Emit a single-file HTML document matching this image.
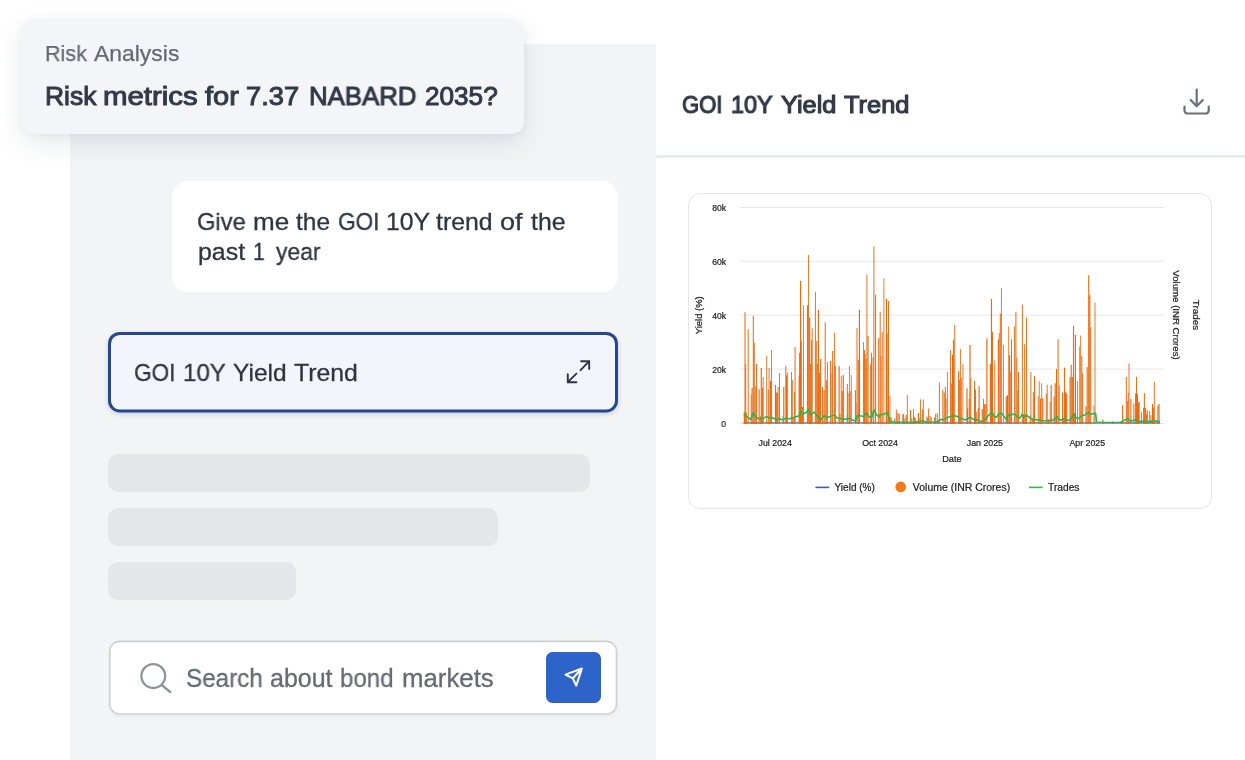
<!DOCTYPE html>
<html lang="en">
<head>
<meta charset="utf-8">
<title>GOI 10Y Yield Trend</title>
<style>
*{box-sizing:border-box;margin:0;padding:0}
html,body{width:1245px;height:760px;overflow:hidden;background:#fff}
body{position:relative;font-family:"Liberation Sans",Arial,sans-serif;color:#30343f}
.abs{position:absolute}
.t{position:absolute;white-space:nowrap;line-height:1;will-change:transform;transform-origin:0 0}
#leftpanel{left:70px;top:44px;width:586px;height:716px;background:#f3f4f6}
#topcard{left:22px;top:19px;width:502px;height:115px;background:#f3f5f8;border-radius:13px;
  box-shadow:0 10px 28px rgba(50,60,90,.11),0 2px 8px rgba(50,60,90,.05)}
#bubble{left:172px;top:181px;width:446px;height:111px;background:#fff;border-radius:16px}
#selcard{left:108px;top:331.9px;width:510px;height:80.6px;background:#f3f5fd;border-radius:11.8px;
  box-shadow:0 2px 5px rgba(30,50,110,.20)}
.sk{background:#e5e6ea;border-radius:10px;height:38px;left:108px}
#search{left:109px;top:640.6px;width:508.3px;height:74.2px;background:#fff;border-radius:10.5px;
  box-shadow:0 1px 3px rgba(0,0,0,.08)}
#sendbtn{left:546px;top:652px;width:55px;height:50.5px;background:#2e64c9;border-radius:6.5px}
#divider{left:656px;top:155px;width:589px;height:3px;background:#e9ebee}
#chartcard{left:688px;top:192.5px;width:524px;height:316px;border:1px solid #e5e7ea;border-radius:12px;background:#fff}
svg#ov{position:absolute;left:0;top:0;width:1245px;height:760px;overflow:visible}
svg text{font-family:"Liberation Sans",Arial,sans-serif}
</style>
</head>
<body>
<div id="leftpanel" class="abs"></div>
<div id="topcard" class="abs"></div>

<div id="bubble" class="abs"></div>

<div id="selcard" class="abs"></div>

<div class="abs sk" style="top:454px;width:482px"></div>
<div class="abs sk" style="top:508px;width:390px"></div>
<div class="abs sk" style="top:562px;width:188px"></div>

<div id="search" class="abs"></div>
<div id="sendbtn" class="abs"></div>

<div id="divider" class="abs"></div>
<div id="chartcard" class="abs"></div>

<div class="t" style="left:44.70px;top:43.1px;font-size:22.6px;transform:scaleX(0.9538);color:#656a72;-webkit-text-stroke:0.25px #656a72">Risk</div>
<div class="t" style="left:94.10px;top:43.1px;font-size:22.6px;transform:scaleX(1.0144);color:#656a72;-webkit-text-stroke:0.25px #656a72">Analysis</div>
<div class="t" style="left:44.70px;top:82.7px;font-size:26px;transform:scaleX(1.0160);color:#333947;-webkit-text-stroke:1.0px #333947">Risk</div>
<div class="t" style="left:103.30px;top:82.7px;font-size:26px;transform:scaleX(1.1315);color:#333947;-webkit-text-stroke:1.0px #333947">metrics</div>
<div class="t" style="left:205.30px;top:82.7px;font-size:26px;transform:scaleX(1.1166);color:#333947;-webkit-text-stroke:1.0px #333947">for</div>
<div class="t" style="left:246.20px;top:82.7px;font-size:26px;transform:scaleX(1.0490);color:#333947;-webkit-text-stroke:1.0px #333947">7.37</div>
<div class="t" style="left:309.10px;top:82.7px;font-size:26px;transform:scaleX(0.9926);color:#333947;-webkit-text-stroke:1.0px #333947">NABARD</div>
<div class="t" style="left:424.50px;top:82.7px;font-size:26px;transform:scaleX(1.0056);color:#333947;-webkit-text-stroke:1.0px #333947">2035?</div>
<div class="t" style="left:197.40px;top:209.8px;font-size:24.5px;transform:scaleX(0.9675);color:#30343f;-webkit-text-stroke:0.3px #30343f">Give</div>
<div class="t" style="left:252.50px;top:209.8px;font-size:24.5px;transform:scaleX(1.0629);color:#30343f;-webkit-text-stroke:0.3px #30343f">me</div>
<div class="t" style="left:296.20px;top:209.8px;font-size:24.5px;transform:scaleX(1.0003);color:#30343f;-webkit-text-stroke:0.3px #30343f">the</div>
<div class="t" style="left:337.60px;top:209.8px;font-size:24.5px;transform:scaleX(0.9242);color:#30343f;-webkit-text-stroke:0.3px #30343f">GOI</div>
<div class="t" style="left:386.40px;top:209.8px;font-size:24.5px;transform:scaleX(1.0098);color:#30343f;-webkit-text-stroke:0.3px #30343f">10Y</div>
<div class="t" style="left:436.40px;top:209.8px;font-size:24.5px;transform:scaleX(1.0147);color:#30343f;-webkit-text-stroke:0.3px #30343f">trend</div>
<div class="t" style="left:500.10px;top:209.8px;font-size:24.5px;transform:scaleX(1.0999);color:#30343f;-webkit-text-stroke:0.3px #30343f">of</div>
<div class="t" style="left:531.40px;top:209.8px;font-size:24.5px;transform:scaleX(1.0126);color:#30343f;-webkit-text-stroke:0.3px #30343f">the</div>
<div class="t" style="left:198.00px;top:239.9px;font-size:24.5px;transform:scaleX(1.0176);color:#30343f;-webkit-text-stroke:0.3px #30343f">past</div>
<div class="t" style="left:253.00px;top:239.9px;font-size:24.5px;transform:scaleX(0.8600);color:#30343f;-webkit-text-stroke:0.3px #30343f">1</div>
<div class="t" style="left:275.50px;top:239.9px;font-size:24.5px;transform:scaleX(0.9336);color:#30343f;-webkit-text-stroke:0.3px #30343f">year</div>
<div class="t" style="left:133.60px;top:360.5px;font-size:24.5px;transform:scaleX(0.9242);color:#30343f;-webkit-text-stroke:0.3px #30343f">GOI</div>
<div class="t" style="left:183.20px;top:360.5px;font-size:24.5px;transform:scaleX(0.9812);color:#30343f;-webkit-text-stroke:0.3px #30343f">10Y</div>
<div class="t" style="left:233.20px;top:360.5px;font-size:24.5px;transform:scaleX(1.0001);color:#30343f;-webkit-text-stroke:0.3px #30343f">Yield</div>
<div class="t" style="left:293.90px;top:360.5px;font-size:24.5px;transform:scaleX(1.0130);color:#30343f;-webkit-text-stroke:0.3px #30343f">Trend</div>
<div class="t" style="left:185.60px;top:665.6px;font-size:25px;transform:scaleX(0.9689);color:#666a72;-webkit-text-stroke:0.3px #666a72">Search</div>
<div class="t" style="left:269.50px;top:665.6px;font-size:25px;transform:scaleX(0.9937);color:#666a72;-webkit-text-stroke:0.3px #666a72">about</div>
<div class="t" style="left:340.30px;top:665.6px;font-size:25px;transform:scaleX(0.9624);color:#666a72;-webkit-text-stroke:0.3px #666a72">bond</div>
<div class="t" style="left:401.60px;top:665.6px;font-size:25px;transform:scaleX(1.0322);color:#666a72;-webkit-text-stroke:0.3px #666a72">markets</div>
<div class="t" style="left:681.80px;top:93px;font-size:24.8px;transform:scaleX(0.8912);color:#333947;-webkit-text-stroke:1.15px #333947">GOI</div>
<div class="t" style="left:731.20px;top:93px;font-size:24.8px;transform:scaleX(0.9446);color:#333947;-webkit-text-stroke:1.15px #333947">10Y</div>
<div class="t" style="left:781.20px;top:93px;font-size:24.8px;transform:scaleX(1.0228);color:#333947;-webkit-text-stroke:1.15px #333947">Yield</div>
<div class="t" style="left:843.90px;top:93px;font-size:24.8px;transform:scaleX(1.0254);color:#333947;-webkit-text-stroke:1.15px #333947">Trend</div>
<svg id="ov" viewBox="0 0 1245 760">
  <rect x="109.5" y="333.4" width="507" height="77.6" rx="10.3" fill="none" stroke="#24478d" stroke-width="3"/>
  <rect x="109.8" y="641.4" width="506.7" height="72.6" rx="9.6" fill="none" stroke="#cdd0d5" stroke-width="1.6"/>
  <!-- expand icon -->
  <g fill="none" stroke="#2f3340" stroke-width="1.9" stroke-linecap="round" stroke-linejoin="miter">
    <path d="M581.1 361.2H589.2V369.1M589.2 361.2L580.6 370.2"/>
    <path d="M567.8 374.2V382.2H576.4M567.8 382.2L576.4 373.6"/>
  </g>
  <!-- search icon -->
  <g fill="none" stroke="#8e9399" stroke-width="2.3" stroke-linecap="round">
    <circle cx="153.3" cy="676.1" r="11.9"/>
    <path d="M162 685.2L170.2 692"/>
  </g>
  <!-- send icon -->
  <g fill="none" stroke="#fff" stroke-width="2" stroke-linecap="round" stroke-linejoin="round">
    <path d="M581.9 668.5L572.9 678.3M581.9 668.5L576.2 685.7L572.9 678.3L565.5 674.6Z"/>
  </g>
  <!-- download icon -->
  <g fill="none" stroke="#6b6f77" stroke-width="2.2" stroke-linecap="round" stroke-linejoin="round">
    <path d="M1196.7 89.5V106.2M1190.7 100.1L1196.7 106.3L1202.8 100.1"/>
    <path d="M1184.5 106.7V110.5a3 3 0 0 0 3 3H1205.7a3 3 0 0 0 3-3V106.7"/>
  </g>
  <!-- chart -->
  <g stroke="#e6e6e6" stroke-width="1">
    <line x1="740.2" x2="1163.8" y1="207.5" y2="207.5"/>
    <line x1="740.2" x2="1163.8" y1="261.3" y2="261.3"/>
    <line x1="740.2" x2="1163.8" y1="315.2" y2="315.2"/>
    <line x1="740.2" x2="1163.8" y1="369.1" y2="369.1"/>
    <line x1="740.2" x2="1163.8" y1="423.5" y2="423.5" stroke="#dedede"/>
  </g>
  <g stroke="#efefef" stroke-width="1">
    <line x1="775.1" x2="775.1" y1="423" y2="430"/>
    <line x1="880.3" x2="880.3" y1="423" y2="430"/>
    <line x1="984.8" x2="984.8" y1="423" y2="430"/>
    <line x1="1086.6" x2="1086.6" y1="423" y2="430"/>
  </g>
<line x1="743.5" y1="422.9" x2="1160" y2="422.9" stroke="#3b6fd4" stroke-width="1.1"/>
<g fill="#e8680e">
<rect x="743.77" y="412.1" width="1.15" height="11.9" opacity="1.0"/>
<rect x="744.50" y="312.3" width="1.0" height="111.7" opacity="1.0"/>
<rect x="745.25" y="364.0" width="0.9" height="60.0" opacity="1.0"/>
<rect x="746.17" y="412.8" width="0.9" height="11.2" opacity="1.0"/>
<rect x="747.70" y="329.2" width="1.0" height="94.8" opacity="0.95"/>
<rect x="750.73" y="394.5" width="0.9" height="29.5" opacity="1.0"/>
<rect x="751.52" y="388.0" width="1.15" height="36.0" opacity="0.95"/>
<rect x="752.80" y="315.8" width="1.0" height="108.2" opacity="1.0"/>
<rect x="753.85" y="342.7" width="0.9" height="81.3" opacity="1.0"/>
<rect x="755.24" y="386.2" width="1.0" height="37.8" opacity="0.95"/>
<rect x="756.10" y="364.0" width="1.0" height="60.0" opacity="1.0"/>
<rect x="758.58" y="389.2" width="1.15" height="34.8" opacity="0.95"/>
<rect x="759.79" y="416.1" width="1.0" height="7.9" opacity="1.0"/>
<rect x="760.72" y="368.0" width="1.15" height="56.0" opacity="1.0"/>
<rect x="762.07" y="387.6" width="1.0" height="36.4" opacity="1.0"/>
<rect x="762.75" y="377.0" width="0.9" height="47.0" opacity="0.95"/>
<rect x="766.25" y="356.0" width="0.9" height="68.0" opacity="0.95"/>
<rect x="767.82" y="389.7" width="0.9" height="34.3" opacity="1.0"/>
<rect x="768.65" y="368.0" width="0.9" height="56.0" opacity="1.0"/>
<rect x="770.02" y="381.0" width="1.15" height="43.0" opacity="1.0"/>
<rect x="771.15" y="350.0" width="0.9" height="74.0" opacity="1.0"/>
<rect x="774.92" y="385.0" width="1.15" height="39.0" opacity="1.0"/>
<rect x="775.66" y="392.4" width="1.15" height="31.6" opacity="1.0"/>
<rect x="776.80" y="393.1" width="1.15" height="30.9" opacity="0.95"/>
<rect x="777.60" y="387.0" width="1.0" height="37.0" opacity="0.95"/>
<rect x="779.05" y="373.0" width="0.9" height="51.0" opacity="1.0"/>
<rect x="782.62" y="415.9" width="0.9" height="8.1" opacity="1.0"/>
<rect x="783.22" y="387.0" width="1.15" height="37.0" opacity="1.0"/>
<rect x="785.35" y="365.5" width="0.9" height="58.5" opacity="1.0"/>
<rect x="785.99" y="375.5" width="1.0" height="48.5" opacity="1.0"/>
<rect x="786.80" y="372.6" width="1.0" height="51.4" opacity="1.0"/>
<rect x="790.95" y="372.0" width="0.9" height="52.0" opacity="1.0"/>
<rect x="791.85" y="380.0" width="0.9" height="44.0" opacity="1.0"/>
<rect x="792.87" y="417.3" width="0.9" height="6.7" opacity="0.95"/>
<rect x="794.01" y="391.9" width="0.9" height="32.1" opacity="0.95"/>
<rect x="794.60" y="347.0" width="1.0" height="77.0" opacity="1.0"/>
<rect x="798.57" y="375.7" width="0.9" height="48.3" opacity="1.0"/>
<rect x="799.12" y="352.7" width="1.15" height="71.3" opacity="1.0"/>
<rect x="800.02" y="280.9" width="1.15" height="143.1" opacity="1.0"/>
<rect x="800.85" y="340.8" width="0.9" height="83.2" opacity="1.0"/>
<rect x="801.86" y="407.0" width="1.15" height="17.0" opacity="1.0"/>
<rect x="803.15" y="305.2" width="0.9" height="118.8" opacity="0.95"/>
<rect x="806.92" y="305.2" width="1.15" height="118.8" opacity="0.95"/>
<rect x="808.15" y="255.0" width="0.9" height="169.0" opacity="1.0"/>
<rect x="809.12" y="317.6" width="1.15" height="106.4" opacity="1.0"/>
<rect x="809.91" y="363.9" width="1.0" height="60.1" opacity="0.95"/>
<rect x="811.10" y="340.4" width="0.9" height="83.6" opacity="0.95"/>
<rect x="811.70" y="328.3" width="1.0" height="95.7" opacity="0.95"/>
<rect x="814.90" y="292.1" width="1.0" height="131.9" opacity="0.95"/>
<rect x="816.25" y="341.0" width="0.9" height="83.0" opacity="1.0"/>
<rect x="816.74" y="363.5" width="1.0" height="60.5" opacity="1.0"/>
<rect x="817.82" y="309.9" width="1.15" height="114.1" opacity="1.0"/>
<rect x="819.07" y="373.0" width="0.9" height="51.0" opacity="1.0"/>
<rect x="820.02" y="359.0" width="1.15" height="65.0" opacity="0.95"/>
<rect x="821.90" y="387.0" width="1.0" height="37.0" opacity="1.0"/>
<rect x="823.50" y="390.0" width="1.15" height="34.0" opacity="1.0"/>
<rect x="824.70" y="322.3" width="1.0" height="101.7" opacity="1.0"/>
<rect x="825.90" y="380.4" width="0.9" height="43.6" opacity="1.0"/>
<rect x="826.95" y="362.0" width="0.9" height="62.0" opacity="1.0"/>
<rect x="830.12" y="361.0" width="1.15" height="63.0" opacity="1.0"/>
<rect x="831.55" y="372.8" width="1.0" height="51.2" opacity="0.95"/>
<rect x="832.12" y="351.0" width="1.15" height="73.0" opacity="0.95"/>
<rect x="834.05" y="332.8" width="0.9" height="91.2" opacity="0.95"/>
<rect x="835.02" y="366.0" width="0.9" height="58.0" opacity="0.95"/>
<rect x="838.52" y="366.0" width="1.15" height="58.0" opacity="1.0"/>
<rect x="839.57" y="413.7" width="0.9" height="10.3" opacity="1.0"/>
<rect x="840.75" y="376.0" width="0.9" height="48.0" opacity="1.0"/>
<rect x="841.72" y="391.0" width="1.15" height="33.0" opacity="1.0"/>
<rect x="842.72" y="375.0" width="1.15" height="49.0" opacity="1.0"/>
<rect x="846.80" y="384.0" width="1.0" height="40.0" opacity="1.0"/>
<rect x="847.42" y="393.1" width="1.15" height="30.9" opacity="0.95"/>
<rect x="848.95" y="366.0" width="0.9" height="58.0" opacity="0.95"/>
<rect x="849.77" y="391.3" width="1.0" height="32.7" opacity="0.95"/>
<rect x="850.85" y="375.0" width="0.9" height="49.0" opacity="0.95"/>
<rect x="854.90" y="390.0" width="1.0" height="34.0" opacity="1.0"/>
<rect x="855.52" y="402.7" width="0.9" height="21.3" opacity="1.0"/>
<rect x="856.50" y="328.0" width="1.0" height="96.0" opacity="0.95"/>
<rect x="857.67" y="359.8" width="1.15" height="64.2" opacity="1.0"/>
<rect x="858.82" y="309.9" width="1.15" height="114.1" opacity="1.0"/>
<rect x="862.95" y="342.0" width="0.9" height="82.0" opacity="1.0"/>
<rect x="863.90" y="350.0" width="1.0" height="74.0" opacity="1.0"/>
<rect x="864.51" y="353.6" width="1.15" height="70.4" opacity="1.0"/>
<rect x="865.72" y="358.9" width="1.0" height="65.1" opacity="1.0"/>
<rect x="866.45" y="274.7" width="0.9" height="149.3" opacity="1.0"/>
<rect x="867.42" y="336.0" width="1.15" height="88.0" opacity="1.0"/>
<rect x="870.20" y="364.5" width="1.15" height="59.5" opacity="1.0"/>
<rect x="871.00" y="352.7" width="1.0" height="71.3" opacity="0.95"/>
<rect x="872.55" y="357.2" width="1.0" height="66.8" opacity="0.95"/>
<rect x="873.40" y="246.2" width="1.0" height="177.8" opacity="0.95"/>
<rect x="875.10" y="294.7" width="1.0" height="129.3" opacity="1.0"/>
<rect x="878.17" y="338.0" width="1.15" height="86.0" opacity="0.95"/>
<rect x="879.70" y="311.7" width="1.0" height="112.3" opacity="0.95"/>
<rect x="880.58" y="355.7" width="0.9" height="68.3" opacity="0.95"/>
<rect x="881.67" y="332.1" width="1.0" height="91.9" opacity="1.0"/>
<rect x="883.45" y="278.5" width="0.9" height="145.5" opacity="0.95"/>
<rect x="885.92" y="299.0" width="1.15" height="125.0" opacity="1.0"/>
<rect x="887.36" y="333.5" width="1.0" height="90.5" opacity="1.0"/>
<rect x="888.00" y="301.0" width="1.0" height="123.0" opacity="0.95"/>
<rect x="889.40" y="396.0" width="1.0" height="28.0" opacity="0.95"/>
<rect x="890.70" y="417.3" width="1.15" height="6.7" opacity="0.95"/>
<rect x="894.20" y="418.4" width="1.0" height="5.6" opacity="0.95"/>
<rect x="895.85" y="409.5" width="0.9" height="14.5" opacity="1.0"/>
<rect x="896.52" y="422.0" width="0.9" height="2.0" opacity="1.0"/>
<rect x="897.22" y="413.0" width="1.15" height="11.0" opacity="0.95"/>
<rect x="898.62" y="414.0" width="1.15" height="10.0" opacity="1.0"/>
<rect x="902.30" y="414.5" width="1.0" height="9.5" opacity="1.0"/>
<rect x="903.15" y="414.0" width="0.9" height="10.0" opacity="1.0"/>
<rect x="904.45" y="418.3" width="1.0" height="5.7" opacity="1.0"/>
<rect x="905.72" y="415.0" width="1.15" height="9.0" opacity="0.95"/>
<rect x="906.85" y="395.0" width="0.9" height="29.0" opacity="1.0"/>
<rect x="910.02" y="410.0" width="1.15" height="14.0" opacity="1.0"/>
<rect x="911.28" y="418.1" width="1.0" height="5.9" opacity="1.0"/>
<rect x="912.95" y="409.0" width="0.9" height="15.0" opacity="1.0"/>
<rect x="913.90" y="417.0" width="1.0" height="7.0" opacity="1.0"/>
<rect x="914.62" y="418.5" width="1.15" height="5.5" opacity="1.0"/>
<rect x="917.82" y="413.0" width="1.15" height="11.0" opacity="1.0"/>
<rect x="919.30" y="418.3" width="0.9" height="5.7" opacity="0.95"/>
<rect x="920.05" y="399.3" width="0.9" height="24.7" opacity="0.95"/>
<rect x="921.90" y="409.5" width="1.0" height="14.5" opacity="0.95"/>
<rect x="922.85" y="399.6" width="0.9" height="24.4" opacity="1.0"/>
<rect x="926.40" y="416.5" width="1.0" height="7.5" opacity="0.95"/>
<rect x="927.23" y="417.7" width="1.0" height="6.3" opacity="0.95"/>
<rect x="928.20" y="408.4" width="1.0" height="15.6" opacity="1.0"/>
<rect x="929.55" y="416.0" width="0.9" height="8.0" opacity="1.0"/>
<rect x="930.57" y="417.7" width="1.15" height="6.3" opacity="1.0"/>
<rect x="934.06" y="417.4" width="1.0" height="6.6" opacity="1.0"/>
<rect x="935.20" y="413.5" width="1.0" height="10.5" opacity="1.0"/>
<rect x="936.80" y="413.5" width="1.0" height="10.5" opacity="0.95"/>
<rect x="937.40" y="421.1" width="1.15" height="2.9" opacity="0.95"/>
<rect x="938.90" y="382.5" width="1.0" height="41.5" opacity="0.95"/>
<rect x="942.30" y="389.6" width="1.0" height="34.4" opacity="0.95"/>
<rect x="943.62" y="392.5" width="1.15" height="31.5" opacity="0.95"/>
<rect x="944.90" y="386.8" width="1.0" height="37.2" opacity="0.95"/>
<rect x="945.38" y="398.7" width="1.15" height="25.3" opacity="0.95"/>
<rect x="946.95" y="371.9" width="0.9" height="52.1" opacity="0.95"/>
<rect x="949.95" y="350.1" width="0.9" height="73.9" opacity="1.0"/>
<rect x="951.19" y="383.5" width="0.9" height="40.5" opacity="1.0"/>
<rect x="951.92" y="354.8" width="1.15" height="69.2" opacity="1.0"/>
<rect x="952.90" y="339.9" width="1.0" height="84.1" opacity="1.0"/>
<rect x="954.25" y="325.0" width="0.9" height="99.0" opacity="1.0"/>
<rect x="958.02" y="371.2" width="1.15" height="52.8" opacity="0.95"/>
<rect x="959.17" y="379.7" width="0.9" height="44.3" opacity="1.0"/>
<rect x="959.95" y="349.1" width="0.9" height="74.9" opacity="0.95"/>
<rect x="960.85" y="378.0" width="0.9" height="46.0" opacity="1.0"/>
<rect x="962.45" y="364.0" width="0.9" height="60.0" opacity="0.95"/>
<rect x="966.42" y="388.2" width="1.15" height="35.8" opacity="1.0"/>
<rect x="967.02" y="408.6" width="1.15" height="15.4" opacity="1.0"/>
<rect x="968.70" y="399.0" width="1.0" height="25.0" opacity="0.95"/>
<rect x="969.42" y="344.9" width="1.15" height="79.1" opacity="1.0"/>
<rect x="970.45" y="378.0" width="0.9" height="46.0" opacity="1.0"/>
<rect x="974.00" y="381.1" width="1.0" height="42.9" opacity="1.0"/>
<rect x="975.00" y="389.6" width="1.0" height="34.4" opacity="0.95"/>
<rect x="976.25" y="411.8" width="0.9" height="12.2" opacity="0.95"/>
<rect x="977.72" y="408.0" width="1.15" height="16.0" opacity="0.95"/>
<rect x="978.52" y="386.1" width="1.15" height="37.9" opacity="1.0"/>
<rect x="981.72" y="409.0" width="1.15" height="15.0" opacity="0.95"/>
<rect x="983.05" y="398.9" width="0.9" height="25.1" opacity="1.0"/>
<rect x="984.05" y="404.0" width="0.9" height="20.0" opacity="1.0"/>
<rect x="985.24" y="404.4" width="1.15" height="19.6" opacity="1.0"/>
<rect x="986.32" y="338.5" width="1.15" height="85.5" opacity="1.0"/>
<rect x="989.80" y="364.1" width="1.15" height="59.9" opacity="1.0"/>
<rect x="990.92" y="299.0" width="1.15" height="125.0" opacity="1.0"/>
<rect x="991.82" y="332.1" width="1.15" height="91.9" opacity="1.0"/>
<rect x="993.34" y="412.1" width="0.9" height="11.9" opacity="0.95"/>
<rect x="994.35" y="360.5" width="0.9" height="63.5" opacity="1.0"/>
<rect x="997.77" y="339.5" width="1.15" height="84.5" opacity="1.0"/>
<rect x="998.75" y="332.8" width="0.9" height="91.2" opacity="1.0"/>
<rect x="999.80" y="313.5" width="1.0" height="110.5" opacity="1.0"/>
<rect x="1000.95" y="288.0" width="0.9" height="136.0" opacity="0.95"/>
<rect x="1002.95" y="344.9" width="0.9" height="79.1" opacity="0.95"/>
<rect x="1005.74" y="396.4" width="1.15" height="27.6" opacity="1.0"/>
<rect x="1007.00" y="395.0" width="1.0" height="29.0" opacity="1.0"/>
<rect x="1008.25" y="326.4" width="0.9" height="97.6" opacity="0.95"/>
<rect x="1009.02" y="355.0" width="1.15" height="69.0" opacity="0.95"/>
<rect x="1010.30" y="371.5" width="1.15" height="52.5" opacity="1.0"/>
<rect x="1011.00" y="339.2" width="1.0" height="84.8" opacity="1.0"/>
<rect x="1013.95" y="326.4" width="0.9" height="97.6" opacity="1.0"/>
<rect x="1015.40" y="311.7" width="1.0" height="112.3" opacity="1.0"/>
<rect x="1016.40" y="357.7" width="1.0" height="66.3" opacity="0.95"/>
<rect x="1017.26" y="390.2" width="0.9" height="33.8" opacity="0.95"/>
<rect x="1018.10" y="371.9" width="1.0" height="52.1" opacity="1.0"/>
<rect x="1021.90" y="304.6" width="1.0" height="119.4" opacity="0.95"/>
<rect x="1022.90" y="414.2" width="1.0" height="9.8" opacity="1.0"/>
<rect x="1024.20" y="344.2" width="1.0" height="79.8" opacity="1.0"/>
<rect x="1025.23" y="414.2" width="0.9" height="9.8" opacity="0.95"/>
<rect x="1026.05" y="317.8" width="0.9" height="106.2" opacity="1.0"/>
<rect x="1029.79" y="415.5" width="0.9" height="8.5" opacity="1.0"/>
<rect x="1030.40" y="371.9" width="1.0" height="52.1" opacity="0.95"/>
<rect x="1032.06" y="419.3" width="0.9" height="4.7" opacity="1.0"/>
<rect x="1032.80" y="392.0" width="1.0" height="32.0" opacity="1.0"/>
<rect x="1034.02" y="376.1" width="1.15" height="47.9" opacity="1.0"/>
<rect x="1037.76" y="396.2" width="0.9" height="27.8" opacity="0.95"/>
<rect x="1038.75" y="381.1" width="0.9" height="42.9" opacity="1.0"/>
<rect x="1039.99" y="398.7" width="1.0" height="25.3" opacity="0.95"/>
<rect x="1041.25" y="383.2" width="0.9" height="40.8" opacity="0.95"/>
<rect x="1042.22" y="398.0" width="1.15" height="26.0" opacity="1.0"/>
<rect x="1045.80" y="394.0" width="1.0" height="30.0" opacity="0.95"/>
<rect x="1046.70" y="384.7" width="1.0" height="39.3" opacity="0.95"/>
<rect x="1047.88" y="419.4" width="1.15" height="4.6" opacity="1.0"/>
<rect x="1049.75" y="401.7" width="0.9" height="22.3" opacity="0.95"/>
<rect x="1050.62" y="385.1" width="1.15" height="38.9" opacity="1.0"/>
<rect x="1053.58" y="396.4" width="1.15" height="27.6" opacity="0.95"/>
<rect x="1054.62" y="383.2" width="1.15" height="40.8" opacity="1.0"/>
<rect x="1056.00" y="369.0" width="1.0" height="55.0" opacity="1.0"/>
<rect x="1057.60" y="339.2" width="1.0" height="84.8" opacity="1.0"/>
<rect x="1058.70" y="385.4" width="1.0" height="38.6" opacity="0.95"/>
<rect x="1062.02" y="392.5" width="1.15" height="31.5" opacity="1.0"/>
<rect x="1062.82" y="418.5" width="0.9" height="5.5" opacity="1.0"/>
<rect x="1063.92" y="367.6" width="1.15" height="56.4" opacity="0.95"/>
<rect x="1065.02" y="391.8" width="1.15" height="32.2" opacity="1.0"/>
<rect x="1066.11" y="393.7" width="1.15" height="30.3" opacity="1.0"/>
<rect x="1069.53" y="377.2" width="1.15" height="46.8" opacity="1.0"/>
<rect x="1070.62" y="364.8" width="1.15" height="59.2" opacity="0.95"/>
<rect x="1071.72" y="377.0" width="1.15" height="47.0" opacity="1.0"/>
<rect x="1072.92" y="325.7" width="1.15" height="98.3" opacity="0.95"/>
<rect x="1074.08" y="413.0" width="1.15" height="11.0" opacity="1.0"/>
<rect x="1074.83" y="334.9" width="1.15" height="89.1" opacity="1.0"/>
<rect x="1077.15" y="381.1" width="0.9" height="42.9" opacity="1.0"/>
<rect x="1079.25" y="346.3" width="0.9" height="77.7" opacity="0.95"/>
<rect x="1080.25" y="335.6" width="0.9" height="88.4" opacity="0.95"/>
<rect x="1081.30" y="355.5" width="1.0" height="68.5" opacity="1.0"/>
<rect x="1082.13" y="373.2" width="1.0" height="50.8" opacity="0.95"/>
<rect x="1085.47" y="406.4" width="1.15" height="17.6" opacity="1.0"/>
<rect x="1086.61" y="367.1" width="1.15" height="56.9" opacity="0.95"/>
<rect x="1088.12" y="275.3" width="1.15" height="148.7" opacity="0.95"/>
<rect x="1089.22" y="295.1" width="1.15" height="128.9" opacity="1.0"/>
<rect x="1090.30" y="327.0" width="1.0" height="97.0" opacity="0.95"/>
<rect x="1093.57" y="405.7" width="0.9" height="18.3" opacity="1.0"/>
<rect x="1094.55" y="302.6" width="0.9" height="121.4" opacity="1.0"/>
<rect x="1102.33" y="419.5" width="1.15" height="4.5" opacity="1.0"/>
<rect x="1111.95" y="421.2" width="0.9" height="2.8" opacity="1.0"/>
<rect x="1120.78" y="421.6" width="1.15" height="2.4" opacity="1.0"/>
<rect x="1122.02" y="405.3" width="1.15" height="18.7" opacity="0.95"/>
<rect x="1125.80" y="376.9" width="1.0" height="47.1" opacity="1.0"/>
<rect x="1126.85" y="401.0" width="0.9" height="23.0" opacity="1.0"/>
<rect x="1127.75" y="393.0" width="0.9" height="31.0" opacity="1.0"/>
<rect x="1128.55" y="363.3" width="0.9" height="60.7" opacity="1.0"/>
<rect x="1130.33" y="398.9" width="1.15" height="25.1" opacity="0.95"/>
<rect x="1133.38" y="403.4" width="1.0" height="20.6" opacity="1.0"/>
<rect x="1135.10" y="393.2" width="1.0" height="30.8" opacity="1.0"/>
<rect x="1136.00" y="376.9" width="1.0" height="47.1" opacity="0.95"/>
<rect x="1137.00" y="394.0" width="1.0" height="30.0" opacity="1.0"/>
<rect x="1137.87" y="402.9" width="1.15" height="21.1" opacity="0.95"/>
<rect x="1138.52" y="401.7" width="1.15" height="22.3" opacity="1.0"/>
<rect x="1141.05" y="411.7" width="0.9" height="12.3" opacity="0.95"/>
<rect x="1143.05" y="408.0" width="0.9" height="16.0" opacity="1.0"/>
<rect x="1143.90" y="393.2" width="1.0" height="30.8" opacity="1.0"/>
<rect x="1144.72" y="408.0" width="1.15" height="16.0" opacity="1.0"/>
<rect x="1145.91" y="414.1" width="1.0" height="9.9" opacity="1.0"/>
<rect x="1146.62" y="410.3" width="1.15" height="13.7" opacity="1.0"/>
<rect x="1149.15" y="411.0" width="0.9" height="13.0" opacity="0.95"/>
<rect x="1150.52" y="415.0" width="0.9" height="9.0" opacity="1.0"/>
<rect x="1152.00" y="403.9" width="1.0" height="20.1" opacity="1.0"/>
<rect x="1152.95" y="407.4" width="0.9" height="16.6" opacity="1.0"/>
<rect x="1153.85" y="381.8" width="0.9" height="42.2" opacity="1.0"/>
<rect x="1157.40" y="405.3" width="1.0" height="18.7" opacity="1.0"/>
<rect x="1158.42" y="403.9" width="1.15" height="20.1" opacity="1.0"/>
</g>
<polyline points="744.3,414.9 746.7,416.6 750.7,419.4 753.5,412.6 755.7,417.1 759.1,418.8 762.5,418.8 766.4,416.6 770.4,418.2 772.6,417.7 776,419.9 779.4,418.8 782.7,419.9 786.1,418.2 789.5,418.8 792.9,417.7 796.2,416.6 799,416 800.7,410.9 803,413.7 806.3,412.6 808.3,409.2 810.3,414.9 814.2,412.1 817.6,416.6 821,419.4 824.3,415.4 826.6,417.7 830,416.6 834.5,414.9 836.7,417.7 841.2,418.8 845.7,419.4 849.1,418.2 852.4,419.9 855.3,421 857.5,415.4 861.4,416 863.7,416.6 866.5,412.6 869.3,417.1 872.1,416.6 874,409.8 876.6,414.9 879.4,417.1 880,414.9 883.9,414.3 887.3,412.6 889,416.6 890.1,421.6 894.6,422.4 908.1,422.2 914,422.4 919.4,421.6 922.2,420.5 925,421.8 931,422.2 937.3,421.8 939.6,419.9 944.1,419.4 948.6,417.1 954.2,415.4 958.7,417.1 962.1,418.8 965.5,419.9 970,417.1 973.3,419.4 977.8,419.9 981.2,421.6 984.6,419.9 987.9,416 991.3,412.6 993.6,415.4 995.8,417.7 998.1,414.9 1000.9,412.6 1003.7,416 1006.5,419.4 1008.2,415.4 1011,414.9 1014.4,413.7 1017.2,416.6 1019.4,418.2 1020,417.7 1022.2,414.3 1023.9,417.1 1026.2,414.9 1030.1,418.2 1033.5,419.4 1038,419.9 1042.5,420.5 1048.1,421 1053.7,419.9 1057.1,416.6 1058.8,419.9 1062.2,419.9 1064.4,418.2 1067.2,420.5 1070,419.9 1073.4,414.3 1076.2,417.7 1078.5,418.8 1081.3,416 1084.7,414.9 1088.6,412.6 1090.8,414.3 1094.8,413.2 1095.6,413.7 1096.7,422.2 1110,422.5 1120.6,422.5 1123.5,420.5 1127.9,418.8 1130.8,421 1135.8,419.9 1139.2,421.6 1143.7,421 1149.3,421.6 1153.8,420.5 1159.4,421.6" fill="none" stroke="#2ab54b" stroke-width="1.6" stroke-linejoin="round" stroke-linecap="round"/>
  <g font-size="8.6" fill="#222" stroke="#222" stroke-width=".22" text-anchor="end">
    <text x="726" y="211.2">80k</text>
    <text x="726" y="265">60k</text>
    <text x="726" y="318.9">40k</text>
    <text x="726" y="372.8">20k</text>
    <text x="726" y="426.7">0</text>
  </g>
  <g font-size="8.8" fill="#222" stroke="#222" stroke-width=".22" text-anchor="middle">
    <text x="775.2" y="445.8">Jul 2024</text>
    <text x="880" y="445.8">Oct 2024</text>
    <text x="984.9" y="445.8">Jan 2025</text>
    <text x="1087.3" y="445.8">Apr 2025</text>
    <text x="951.9" y="461.9" font-size="9.2">Date</text>
    <text transform="translate(701.8 315.3) rotate(-90)" font-size="9" textLength="37.9" lengthAdjust="spacingAndGlyphs">Yield (%)</text>
    <text transform="translate(1172.8 315) rotate(90)" font-size="9.4" textLength="89.3" lengthAdjust="spacingAndGlyphs">Volume (INR Crores)</text>
    <text transform="translate(1192.5 315) rotate(90)" font-size="9.4" textLength="30.3" lengthAdjust="spacingAndGlyphs">Trades</text>
  </g>
  <g font-size="10" fill="#222" stroke-width=".22">
    <line x1="815.4" x2="829.2" y1="487.4" y2="487.4" stroke="#2f5fc4" stroke-width="1.6"/>
    <text stroke="#222" x="834.5" y="490.9" textLength="40.4" lengthAdjust="spacingAndGlyphs">Yield (%)</text>
    <circle cx="900.7" cy="486.9" r="5.3" fill="#f3781b"/>
    <text stroke="#222" x="912.8" y="490.9" font-size="10.4" textLength="97.4" lengthAdjust="spacingAndGlyphs">Volume (INR Crores)</text>
    <line x1="1029" x2="1042.7" y1="487.4" y2="487.4" stroke="#2fb84f" stroke-width="1.6"/>
    <text stroke="#222" x="1048.1" y="490.9" textLength="31.3" lengthAdjust="spacingAndGlyphs">Trades</text>
  </g>
</svg>
</body>
</html>
